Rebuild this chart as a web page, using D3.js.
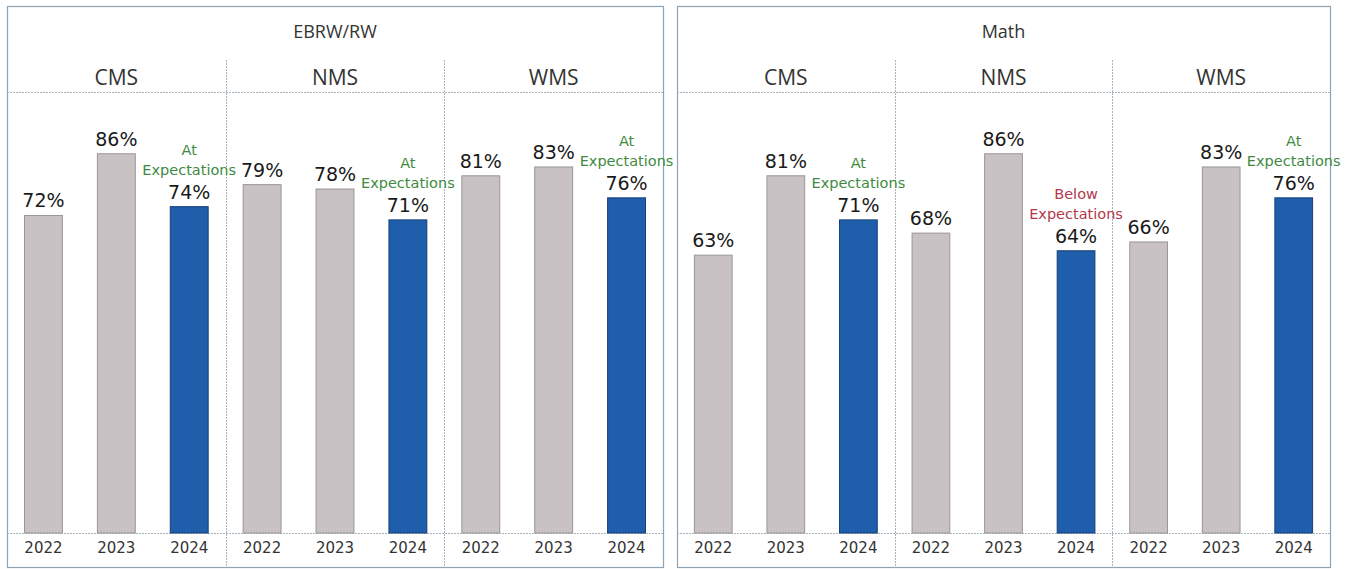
<!DOCTYPE html>
<html>
<head>
<meta charset="utf-8">
<script src="https://cdn.jsdelivr.net/npm/d3@7"></script>
<style>
  body { margin: 0; background: #fff; }
  svg { display: block; }
</style>
</head>
<body>
<svg></svg>
<script>
var width = 1350;
var height = 569;

var subjects = ["EBRW/RW", "Math"];
var schools = ["CMS", "NMS", "WMS"];
var years = ["2022", "2023", "2024"];

// one row per school, one value per year
var ebrwValues = [[72, 86, 74], [79, 78, 71], [81, 83, 76]];
var mathValues = [[63, 81, 71], [68, 86, 64], [66, 83, 76]];

// status note shown over the 2024 bar
var ebrwStatus = ["At", "At", "At"];
var mathStatus = ["At", "Below", "At"];

var panels = [
  { title: subjects[0], values: ebrwValues, status: ebrwStatus, x0: 7, x1: 663 },
  { title: subjects[1], values: mathValues, status: mathStatus, x0: 677, x1: 1330 }
];

var frameTop = 6, subTop = 60, plotTop = 92, baseY = 533, frameBottom = 567;

var svg = d3.select("svg")
  .attr("width", width)
  .attr("height", height);

var y = d3.scaleLinear().domain([0, 100]).range([baseY, plotTop]);

var borderColor = "#8ea4b4";
var gridColor = "#a9b3bb";

panels.forEach(function(p) {
  var g = svg.append("g");

  var xSchool = d3.scaleBand().domain(schools).range([p.x0, p.x1]);

  // outer frame
  g.append("rect")
    .attr("x", p.x0 + 0.5).attr("y", frameTop + 0.5)
    .attr("width", p.x1 - p.x0).attr("height", frameBottom - frameTop)
    .attr("fill", "none")
    .attr("stroke", borderColor)
    .attr("stroke-width", 1.2);

  // horizontal rules
  [plotTop, baseY].forEach(function(yy) {
    g.append("line")
      .attr("x1", p.x0).attr("x2", p.x1)
      .attr("y1", yy + 0.5).attr("y2", yy + 0.5)
      .attr("stroke", gridColor)
      .attr("stroke-dasharray", "2,1");
  });

  // dividers between schools
  schools.slice(1).forEach(function(s) {
    var xx = Math.round(xSchool(s)) + 0.5;
    g.append("line")
      .attr("x1", xx).attr("x2", xx)
      .attr("y1", subTop).attr("y2", frameBottom)
      .attr("stroke", gridColor)
      .attr("stroke-dasharray", "2,1");
  });

  g.append("text")
    .attr("x", (p.x0 + p.x1) / 2)
    .attr("y", 38)
    .attr("text-anchor", "middle")
    .attr("font-family", "'Open Sans', sans-serif")
    .attr("font-size", 18)
    .attr("fill", "#333")
    .text(p.title);

  schools.forEach(function(s, si) {
    var x = d3.scaleBand().domain(years)
      .range([xSchool(s), xSchool(s) + xSchool.bandwidth()])
      .paddingInner(0.48).paddingOuter(0.24);

    g.append("text")
      .attr("x", xSchool(s) + xSchool.bandwidth() / 2)
      .attr("y", 85)
      .attr("text-anchor", "middle")
      .attr("font-family", "'Open Sans', sans-serif")
      .attr("font-size", 21)
      .attr("fill", "#333")
      .text(s);

    var rows = years.map(function(yr, i) {
      return { year: yr, value: p.values[si][i], current: i === years.length - 1 };
    });

    g.selectAll(null)
      .data(rows)
      .enter()
      .append("rect")
        .attr("x", d => x(d.year))
        .attr("y", d => y(d.value))
        .attr("width", x.bandwidth())
        .attr("height", d => baseY - y(d.value))
        .attr("fill", d => d.current ? "#1f5eab" : "#c9c2c5")
        .attr("stroke", d => d.current ? "#173f78" : "#9a9598")
        .attr("stroke-width", 1);

    g.selectAll(null)
      .data(rows)
      .enter()
      .append("text")
        .attr("x", d => x(d.year) + x.bandwidth() / 2)
        .attr("y", d => y(d.value) - 8)
        .attr("text-anchor", "middle")
        .attr("font-family", "'DejaVu Sans', sans-serif")
        .attr("font-size", 19)
        .attr("fill", "#1a1a1a")
        .text(d => d.value + "%");

    g.selectAll(null)
      .data(rows)
      .enter()
      .append("text")
        .attr("x", d => x(d.year) + x.bandwidth() / 2)
        .attr("y", 553)
        .attr("text-anchor", "middle")
        .attr("font-family", "'DejaVu Sans', sans-serif")
        .attr("font-size", 15)
        .attr("fill", "#333")
        .text(d => d.year);

    // status note over the latest year
    var last = rows[rows.length - 1];
    var cx = x(last.year) + x.bandwidth() / 2;
    var noteColor = p.status[si] === "Below" ? "#b3384b" : "#3f8a3f";
    var base = y(last.value) - 8;
    g.append("text")
      .attr("x", cx).attr("y", base - 24)
      .attr("text-anchor", "middle")
      .attr("font-family", "'DejaVu Sans', sans-serif")
      .attr("font-size", 14.5)
      .attr("fill", noteColor)
      .text("Expectations");
    g.append("text")
      .attr("x", cx).attr("y", base - 44)
      .attr("text-anchor", "middle")
      .attr("font-family", "'DejaVu Sans', sans-serif")
      .attr("font-size", 14.5)
      .attr("fill", noteColor)
      .text(p.status[si]);
  });
});
</script>
</body>
</html>
